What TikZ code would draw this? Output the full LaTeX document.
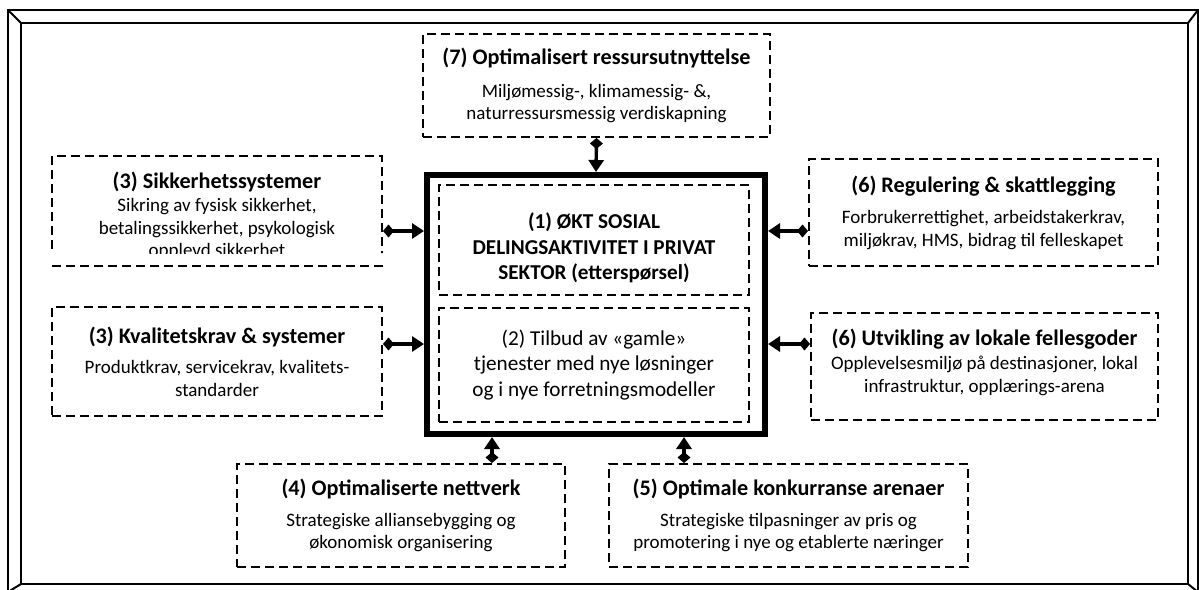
\documentclass[tikz,border=0pt]{standalone}
\usepackage{fontspec}
\setmainfont{Carlito}
\usetikzlibrary{arrows.meta}

\begin{document}
\begin{tikzpicture}[x=0.5pt,y=-0.5pt]
\tikzset{
  bevel/.style={line width=1pt},
  box/.style={draw,dash pattern=on 4.5pt off 2.5pt,line width=1pt,align=center,inner sep=0pt,
    font=\fontsize{9.5}{11.2}\selectfont},
  corebox/.style={draw,line width=3pt,inner sep=0pt,minimum width=169pt,minimum height=129.5pt},
  innerbox/.style={box,minimum width=155pt,font=\fontsize{10.6}{12.8}\selectfont},
  link/.style={line width=1.7pt,{Diamond[length=5.5pt,width=6.5pt]}-{Triangle[length=6pt,width=7.5pt]}}
}
\newcommand{\ttl}[1]{\textbf{\fontsize{11.1}{12}\selectfont #1}}
\useasboundingbox (0,0) rectangle (1199,589);
\draw[bevel] (8,10) rectangle (1198,592);
\draw[bevel] (21,23) rectangle (1188,584);
\draw[bevel] (8,10) -- (21,23) (1198,10) -- (1188,23) (8,592) -- (21,584) (1198,592) -- (1188,584);
\node[corebox] (core) at (596,304.5) {};
\node[innerbox,minimum height=55pt] (okt) at (594,240)
  {\rule{0pt}{16pt}\bfseries (1) ØKT SOSIAL\\\bfseries DELINGSAKTIVITET I PRIVAT\\\bfseries SEKTOR (etterspørsel)};
\node[innerbox,minimum height=57pt] (tilbud) at (594,365)
  {(2) Tilbud av «gamle»\\tjenester med nye løsninger\\og i nye forretningsmodeller};
\node[box,minimum width=173.5pt,minimum height=51.5pt] (res) at (596.5,85.5)
  {\ttl{(7) Optimalisert ressursutnyttelse}\\[5pt]Miljømessig-, klimamessig- \&,\\naturressursmessig verdiskapning};
\begin{scope}
\clip (0,0) rectangle (1199,253) (0,263) rectangle (1199,589);
\node[box,minimum width=165pt,minimum height=55pt] (sik) at (217,211)
  {\rule{0pt}{13pt}\ttl{(3) Sikkerhetssystemer}\\[0.5pt]Sikring av fysisk sikkerhet,\\betalingssikkerhet, psykologisk\\opplevd sikkerhet};
\end{scope}
\node[box,minimum width=165pt,minimum height=54.5pt] (kval) at (217,361.5)
  {\ttl{(3) Kvalitetskrav \& systemer}\\[4pt]Produktkrav, servicekrav, kvalitets-\\standarder};
\node[box,minimum width=174.5pt,minimum height=53.5pt] (reg) at (983.5,212.5)
  {\ttl{(6) Regulering \& skattlegging}\\[4.5pt]Forbrukerrettighet, arbeidstakerkrav,\\miljøkrav, HMS, bidrag til felleskapet};
\node[box,minimum width=173.5pt,minimum height=53.5pt,text depth=6pt] (utv) at (984.5,366.5)
  {\ttl{(6) Utvikling av lokale fellesgoder}\\[1pt]Opplevelsesmiljø på destinasjoner, lokal\\infrastruktur, opplærings-arena};
\node[box,minimum width=164pt,minimum height=51.5pt] (nett) at (401,515.5)
  {\ttl{(4) Optimaliserte nettverk}\\[4pt]Strategiske alliansebygging og\\økonomisk organisering};
\node[box,minimum width=179.5pt,minimum height=51.5pt] (kon) at (788.5,515.5)
  {\ttl{(5) Optimale konkurranse arenaer}\\[4pt]Strategiske tilpasninger av pris og\\promotering i nye og etablerte næringer};
\coordinate (lvlA) at (0,231);
\coordinate (lvlB) at (0,344);
\coordinate (colA) at (492,0);
\coordinate (colB) at (684,0);
\draw[link] (res.south) -- (core.north);
\draw[link] (sik.east |- lvlA) -- (core.west |- lvlA);
\draw[link] (kval.east |- lvlB) -- (core.west |- lvlB);
\draw[link] (reg.west |- lvlA) -- (core.east |- lvlA);
\draw[link] (utv.west |- lvlB) -- (core.east |- lvlB);
\draw[link] (colA |- nett.north) -- (colA |- core.south);
\draw[link] (colB |- kon.north) -- (colB |- core.south);
\end{tikzpicture}
\end{document}
